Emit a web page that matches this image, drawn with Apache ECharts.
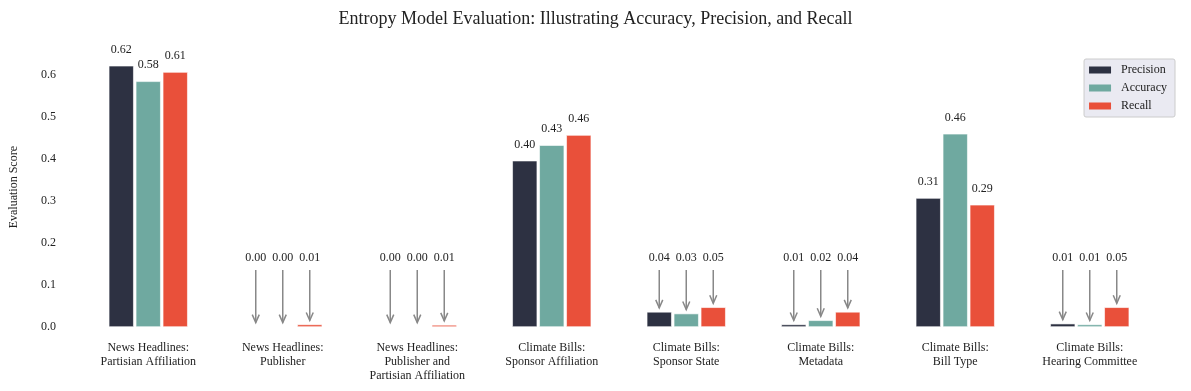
<!DOCTYPE html>
<html><head><meta charset="utf-8">
<script src="https://cdn.jsdelivr.net/npm/echarts@6/dist/echarts.min.js"></script>
<style>html,body{margin:0;padding:0;background:#fff}#c{width:1191px;height:391px}</style>
</head><body><div id="c"></div>
<script>
const categories = [
  "News Headlines:\nPartisian Affiliation",
  "News Headlines:\nPublisher",
  "News Headlines:\nPublisher and\nPartisian Affiliation",
  "Climate Bills:\nSponsor Affiliation",
  "Climate Bills:\nSponsor State",
  "Climate Bills:\nMetadata",
  "Climate Bills:\nBill Type",
  "Climate Bills:\nHearing Committee"
];
const seriesNames = ["Precision", "Accuracy", "Recall"];
const precision = [0.622, 0.001, 0.001, 0.396, 0.036, 0.006, 0.307, 0.008];
const accuracy  = [0.585, 0.001, 0.001, 0.433, 0.032, 0.016, 0.460, 0.006];
const recall    = [0.607, 0.006, 0.005, 0.457, 0.047, 0.036, 0.291, 0.047];
const yTicks = [0.0, 0.1, 0.2, 0.3, 0.4, 0.5, 0.6];

const colors = ["#2d3142", "#6fa9a0", "#e9503a"];
const values = [precision, accuracy, recall];
const FONT = "Liberation Serif";
const BAR_W = 25, STEP = 27;
const SMALL = 0.1;

const chart = echarts.init(document.getElementById('c'), null, {renderer: 'canvas'});

const barSeries = seriesNames.map((n, i) => ({
  name: n, type: 'bar', data: values[i], barWidth: BAR_W, barGap: '8%',
  itemStyle: {color: colors[i], borderColor: '#ffffff', borderWidth: 0.6},
  label: {show: true, position: 'top', distance: 10, color: '#222', fontFamily: FONT, fontSize: 12,
    formatter: p => p.value >= SMALL ? p.value.toFixed(2) : ''},
  z: 2
}));

const annSeries = seriesNames.map((n, i) => ({
  type: 'custom', name: n + '_ann', silent: true, legendHoverLink: false,
  data: values[i].map((v, k) => [k, v]),
  renderItem: function (params, api) {
    const v = api.value(1);
    if (v >= SMALL) return null;
    const off = (i - 1) * STEP;
    const base = api.coord([api.value(0), 0]);
    const x = base[0] + off;
    const yTop = api.coord([api.value(0), v])[1];
    const yText = 258, yStart = 270, yTip = yTop - 4;
    const g = '#888888';
    return {type: 'group', children: [
      {type: 'text', style: {x: x, y: yText, text: v.toFixed(2), fill: '#222', font: '12px "' + FONT + '"', textAlign: 'center', textVerticalAlign: 'middle'}},
      {type: 'line', shape: {x1: x, y1: yStart, x2: x, y2: yTip}, style: {stroke: g, lineWidth: 1.5}},
      {type: 'polyline', shape: {points: [[x - 3.5, yTip - 8], [x, yTip], [x + 3.5, yTip - 8]]}, style: {stroke: g, lineWidth: 1.5, fill: null}}
    ]};
  },
  z: 5
}));

chart.setOption({
  animation: false,
  backgroundColor: '#ffffff',
  textStyle: {fontFamily: FONT},
  title: {text: 'Entropy Model Evaluation: Illustrating Accuracy, Precision, and Recall', left: 'center', top: 5,
    textStyle: {fontFamily: FONT, fontSize: 18, fontWeight: 'normal', color: '#222'}},
  legend: {data: seriesNames.map(n => ({name: n, icon: 'rect'})), right: 16, top: 59, orient: 'vertical', itemWidth: 22, itemHeight: 7, itemGap: 6,
    backgroundColor: '#eaeaf2', borderColor: '#cccccc', borderWidth: 1, borderRadius: 2, padding: [5, 8, 5, 5],
    itemStyle: {borderWidth: 0},
    textStyle: {fontFamily: FONT, fontSize: 12, color: '#222', padding: [0, 0, 0, 5]}},
  grid: {left: 81, right: 34, top: 54, bottom: 64},
  xAxis: {type: 'category', data: categories,
    axisLine: {show: false}, axisTick: {show: false}, splitLine: {show: false},
    axisLabel: {fontFamily: FONT, fontSize: 12, color: '#222', margin: 14, lineHeight: 14, interval: 0}},
  yAxis: {type: 'value', min: 0, max: 0.65, interval: 0.1,
    axisLine: {show: false}, axisTick: {show: false}, splitLine: {show: false},
    axisLabel: {fontFamily: FONT, fontSize: 12, color: '#222', margin: 25, showMaxLabel: false,
      formatter: v => {const t = yTicks.find(x => Math.abs(x - v) < 1e-6); return t === undefined ? '' : t.toFixed(1);}}},
  graphic: [{type: 'text', left: 8, top: 146, rotation: Math.PI / 2,
    style: {text: 'Evaluation Score', font: '12px "' + FONT + '"', fill: '#222'}}],
  series: barSeries.concat(annSeries)
});
</script></body></html>
